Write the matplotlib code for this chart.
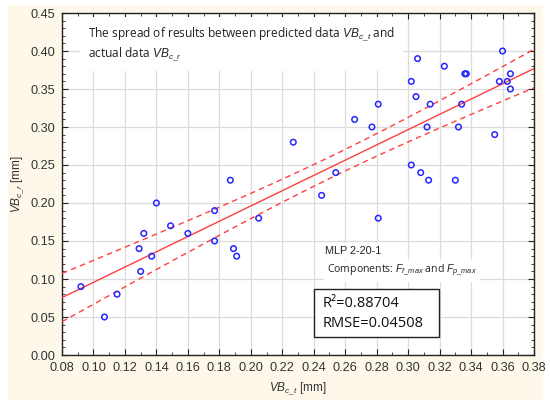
import numpy as np
import matplotlib
matplotlib.use("Agg")
import matplotlib.pyplot as plt
from matplotlib.patches import Rectangle
from matplotlib.ticker import MultipleLocator

# predicted VBc_t vs actual VBc_r
vb_pred = [0.092, 0.107, 0.115, 0.129, 0.130, 0.132, 0.137, 0.140, 0.149, 0.160,
           0.177, 0.177, 0.187, 0.189, 0.191, 0.205, 0.227, 0.245, 0.254, 0.266,
           0.277, 0.281, 0.281, 0.302, 0.302, 0.305, 0.306, 0.308, 0.312, 0.313,
           0.314, 0.323, 0.330, 0.332, 0.334, 0.336, 0.337, 0.355, 0.358, 0.360,
           0.363, 0.365, 0.365]
vb_real = [0.09, 0.05, 0.08, 0.14, 0.11, 0.16, 0.13, 0.20, 0.17, 0.16,
           0.19, 0.15, 0.23, 0.14, 0.13, 0.18, 0.28, 0.21, 0.24, 0.31,
           0.30, 0.33, 0.18, 0.36, 0.25, 0.34, 0.39, 0.24, 0.30, 0.23,
           0.33, 0.38, 0.23, 0.30, 0.33, 0.37, 0.37, 0.29, 0.36, 0.40,
           0.36, 0.35, 0.37]

xticks = [0.08, 0.10, 0.12, 0.14, 0.16, 0.18, 0.20, 0.22, 0.24, 0.26, 0.28, 0.30, 0.32, 0.34, 0.36, 0.38]
yticks = [0.00, 0.05, 0.10, 0.15, 0.20, 0.25, 0.30, 0.35, 0.40, 0.45]

r2_line = "R\u00b2=0.88704"
rmse_line = "RMSE=0.04508"

plt.rcParams["font.family"] = ["Liberation Sans", "DejaVu Sans"]
plt.rcParams["mathtext.fontset"] = "custom"
plt.rcParams["mathtext.rm"] = "Liberation Sans"
plt.rcParams["mathtext.it"] = "Liberation Sans:italic"

fig = plt.figure(figsize=(5.5, 4.09), dpi=100, facecolor="white")
fig.patches.append(Rectangle((8 / 550, 1 - 400 / 409), 535 / 550, 395 / 409,
                             transform=fig.transFigure, facecolor="#fdf8ea",
                             edgecolor="none", zorder=-10))
ax = fig.add_axes([62 / 550, 1 - 355 / 409, 472 / 550, 342 / 409])
ax.set_facecolor("white")

x = np.array(vb_pred)
y = np.array(vb_real)
n = len(x)
slope, icpt = np.polyfit(x, y, 1)
xs = np.linspace(0.08, 0.38, 100)
fit = icpt + slope * xs
resid = y - (icpt + slope * x)
s = np.sqrt(np.sum(resid ** 2) / (n - 2))
sxx = np.sum((x - x.mean()) ** 2)
band = 2.018 * s * np.sqrt(1 / n + (xs - x.mean()) ** 2 / sxx)

red = "#ff3f3f"
ax.plot(xs, fit, color=red, lw=1.0, zorder=3)
ax.plot(xs, fit + band, color=red, lw=1.0, ls=(0, (4, 3)), zorder=3)
ax.plot(xs, fit - band, color=red, lw=1.0, ls=(0, (4, 3)), zorder=3)
ax.scatter(x, y, s=16, facecolors="none", edgecolors="#2626ff", linewidths=1.1, zorder=4)

ax.set_xlim(0.08, 0.38)
ax.set_ylim(0, 0.45)
ax.set_xticks(xticks)
ax.set_yticks(yticks)
ax.set_xticklabels([f"{v:.2f}" for v in xticks])
ax.set_yticklabels([f"{v:.2f}" for v in yticks])
ax.xaxis.set_minor_locator(MultipleLocator(0.01))
ax.yaxis.set_minor_locator(MultipleLocator(0.01))
ax.tick_params(which="both", direction="in", top=True, right=True, colors="#222222",
               labelsize=9.2, labelcolor="#333333")
ax.tick_params(which="major", length=4, pad=5)
ax.tick_params(which="minor", length=2)
ax.grid(True, which="major", color="#dcdcdc", lw=0.9, zorder=0)
ax.set_axisbelow(True)
for sp in ax.spines.values():
    sp.set_color("#222222")
    sp.set_linewidth(1.0)

ax.set_xlabel(r"$\it{VB}_{\it{c\_t}}$ [mm]", fontsize=8.5, color="#333333", labelpad=5)
ax.set_ylabel(r"$\it{VB}_{\it{c\_r}}$ [mm]", fontsize=8.5, color="#333333", labelpad=3)

note = dict(facecolor="white", edgecolor="none", pad=2)
ax.text(0.0965, 0.434, r"The spread of results between predicted data $\it{VB}_{\it{c\_t}}$ and" "\n"
        r"actual data $\it{VB}_{\it{c\_r}}$", fontsize=8.6, family="Open Sans",
        va="top", ha="left", color="#222222", linespacing=1.25,
        bbox=dict(facecolor="white", edgecolor="none", pad=6))
ax.text(0.2472, 0.137, "MLP 2-20-1", fontsize=7.8, va="center", ha="left",
        color="#222222", bbox=note)
ax.text(0.2485, 0.1105, r"Components: $\it{F}_{\it{f\_max}}$ and $\it{F}_{\it{p\_max}}$",
        fontsize=7.6, family="Open Sans", va="center", ha="left", color="#222222", bbox=note)

ax.add_patch(Rectangle((0.534, 0.0526), 0.265, 0.1404, transform=ax.transAxes,
                       facecolor="white", edgecolor="#222222", lw=1.0, zorder=5))
ax.text(0.553, 0.150, r2_line, transform=ax.transAxes, fontsize=10.5, family="Open Sans",
        va="center", ha="left", color="#111111", zorder=6)
ax.text(0.553, 0.092, rmse_line, transform=ax.transAxes, fontsize=10.5, family="Open Sans",
        va="center", ha="left", color="#111111", zorder=6)

fig.savefig("out.png", dpi=100, facecolor="white")
